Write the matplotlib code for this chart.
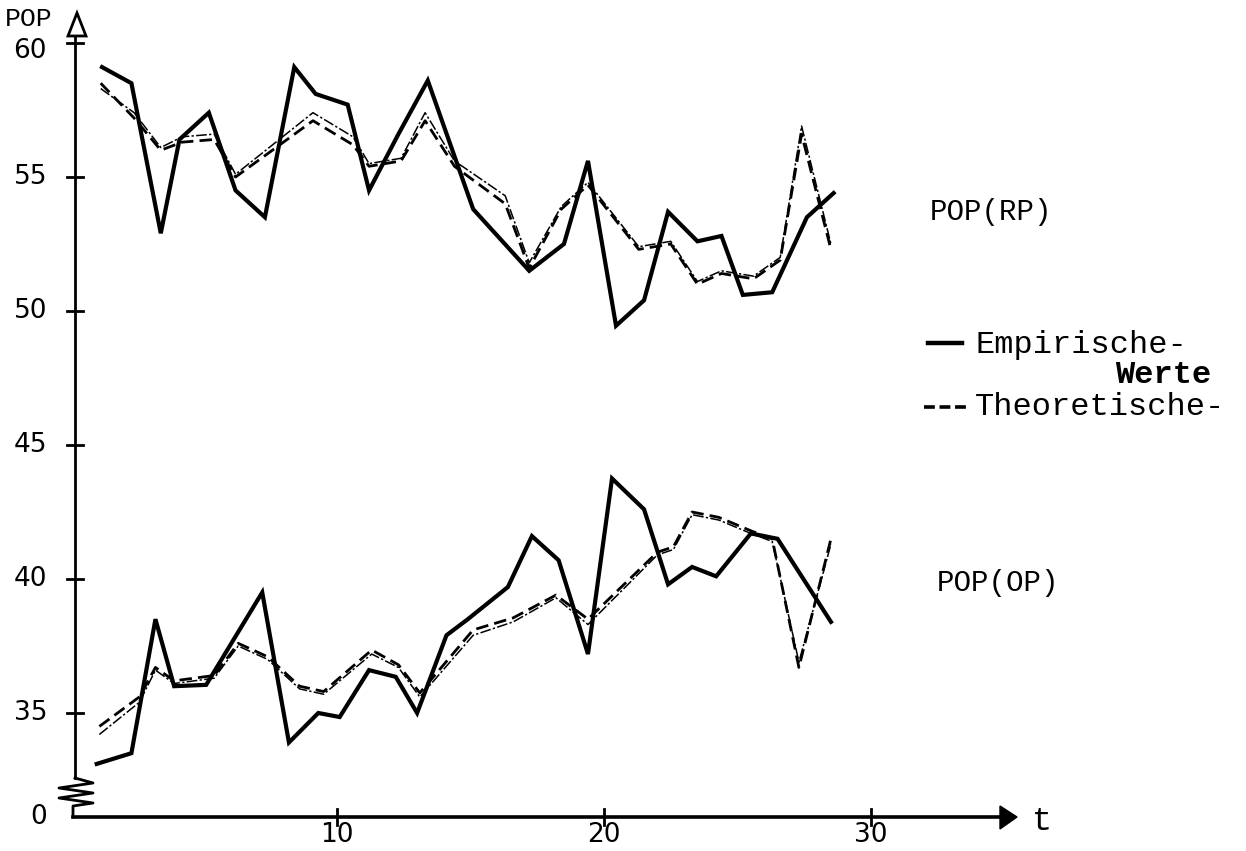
import matplotlib
matplotlib.use("Agg")
import matplotlib.pyplot as plt
from matplotlib.patches import Polygon

# ---------------- data ----------------
t_emp_rp = [1.2, 2.3, 3.4, 4.1, 5.2, 6.2, 7.3, 8.4, 9.2, 10.4, 11.2, 12.3, 13.4,
            15.1, 17.2, 18.5, 19.4, 20.45, 21.5, 22.4, 23.5, 24.4, 25.2, 26.3, 27.6, 28.6]
emp_rp = [59.1, 58.5, 52.9, 56.4, 57.4, 54.5, 53.5, 59.1, 58.1, 57.7, 54.5, 56.6, 58.6,
          53.8, 51.5, 52.5, 55.6, 49.45, 50.4, 53.7, 52.6, 52.8, 50.6, 50.7, 53.5, 54.4]

t_theo_rp = [1.15, 2.4, 3.4, 4.2, 5.4, 6.2, 9.1, 10.6, 11.2, 12.4, 13.3, 14.4, 16.3,
             17.2, 18.4, 19.4, 21.3, 22.5, 23.5, 24.4, 25.6, 26.6, 27.4, 28.5]
theo_rp = [58.5, 57.2, 56.0, 56.3, 56.4, 55.0, 57.1, 56.2, 55.4, 55.6, 57.1, 55.4, 54.0,
           51.6, 53.8, 54.7, 52.3, 52.5, 51.0, 51.4, 51.2, 51.9, 56.6, 52.3]
theo_rp_b = [58.3, 57.4, 56.1, 56.5, 56.6, 55.1, 57.4, 56.5, 55.5, 55.7, 57.4, 55.6, 54.3,
             51.8, 53.9, 54.8, 52.4, 52.6, 51.1, 51.5, 51.3, 52.0, 56.9, 52.5]

t_emp_op = [1.0, 2.3, 3.2, 3.9, 5.1, 7.2, 8.2, 9.3, 10.1, 11.2, 12.2, 13.0, 14.1, 14.9,
            16.4, 17.3, 18.3, 19.4, 20.3, 21.5, 22.4, 23.3, 24.2, 25.5, 26.5, 28.5]
emp_op = [33.1, 33.5, 38.5, 36.0, 36.05, 39.5, 33.9, 35.0, 34.85, 36.6, 36.35, 35.0, 37.9, 38.5,
          39.7, 41.6, 40.7, 37.2, 43.75, 42.6, 39.8, 40.45, 40.1, 41.7, 41.5, 38.4]

t_theo_op = [1.1, 2.6, 3.2, 3.9, 5.4, 6.3, 7.4, 8.6, 9.5, 11.3, 12.3, 13.1, 15.1, 16.6,
             18.2, 19.4, 22.0, 22.6, 23.3, 24.3, 25.5, 26.3, 27.3, 28.5]
theo_op = [34.5, 35.6, 36.7, 36.2, 36.4, 37.6, 37.1, 36.0, 35.8, 37.35, 36.8, 35.75, 38.1, 38.55,
           39.4, 38.5, 41.0, 41.2, 42.5, 42.3, 41.8, 41.5, 36.7, 41.5]
theo_op_b = [34.2, 35.4, 36.6, 36.1, 36.3, 37.5, 37.0, 35.9, 35.7, 37.2, 36.7, 35.6, 37.9, 38.4,
             39.3, 38.3, 40.9, 41.1, 42.4, 42.2, 41.7, 41.4, 36.9, 41.3]

y_ticks = [35, 40, 45, 50, 55, 60]
y_tick_labels = ["35", "40", "45", "50", "55", "60"]
x_ticks = [10, 20, 30]
x_tick_labels = ["10", "20", "30"]
zero_level = 31.12          # where the broken axis places "0"
y_axis_x = 0.19

W, H = 1246, 851
fig = plt.figure(figsize=(W / 100, H / 100), dpi=100)
ax = fig.add_axes([0, 0, 1, 1])
PX0, PXS = 70.0, 26.7
PY60, PYS = 43.0, 26.8
ax.set_xlim(-PX0 / PXS, (W - PX0) / PXS)
ax.set_ylim(60 - (H - PY60) / PYS, 60 + PY60 / PYS)
ax.axis("off")


def px2x(px):
    return (px - PX0) / PXS


def py2y(py):
    return 60 - (py - PY60) / PYS


ink = "black"
mono = ["Liberation Mono", "DejaVu Sans Mono"]
sans = ["DejaVu Sans"]

# ---------------- series ----------------
for tt, vv in ((t_emp_rp, emp_rp), (t_emp_op, emp_op)):
    ax.plot(tt, vv, color=ink, lw=3.0, solid_joinstyle="miter", zorder=4)
for tt, vv in ((t_theo_rp, theo_rp), (t_theo_op, theo_op)):
    ax.plot(tt, vv, color=ink, lw=2.0, dashes=(4.5, 2.2), zorder=3)
for tt, vv in ((t_theo_rp, theo_rp_b), (t_theo_op, theo_op_b)):
    ax.plot(tt, vv, color=ink, lw=1.1, dashes=(7, 1.5, 1.5, 1.5), zorder=3)

# ---------------- axes (drawn by hand, scanned style) ----------------
ax.plot([y_axis_x, y_axis_x], [py2y(778), py2y(30)], color=ink, lw=2.0, zorder=5)
zz_px = [(75, 778), (93, 783), (59, 788), (93, 793), (59, 798), (93, 803), (73, 806), (73, 817)]
ax.plot([px2x(p[0]) for p in zz_px], [py2y(p[1]) for p in zz_px], color=ink, lw=2.0, zorder=5)
ax.plot([px2x(73), px2x(1000)], [zero_level, zero_level], color=ink, lw=2.6, zorder=5)
# arrow heads
ax.add_patch(Polygon([(px2x(1000), py2y(806)), (px2x(1017), py2y(817)), (px2x(1000), py2y(829))],
                     closed=True, color=ink, zorder=6))
ax.add_patch(Polygon([(px2x(68), py2y(36)), (px2x(77), py2y(13)), (px2x(86), py2y(36))],
                     closed=True, facecolor="white", edgecolor=ink, lw=2.0, zorder=6))

# y ticks
for v, lab in zip(y_ticks, y_tick_labels):
    ax.plot([px2x(67), px2x(83)], [v, v], color=ink, lw=2.0, zorder=5)
    yy = v - (0.3 if v == 60 else 0.0)
    ax.text(px2x(47), yy, lab, ha="right", va="center", fontsize=19, family=sans, color=ink)
ax.text(px2x(47), zero_level, "0", ha="right", va="center", fontsize=19, family=sans, color=ink)

# x ticks
for v, lab in zip(x_ticks, x_tick_labels):
    ax.plot([v, v], [py2y(809), py2y(825)], color=ink, lw=2.0, zorder=5)
    ax.text(v, py2y(835), lab, ha="center", va="center", fontsize=19, family=sans, color=ink)

# axis titles
fig.text(5 / W, 1 - 19 / H, "POP", ha="left", va="center", fontsize=19, family=mono, color=ink)
fig.text(1032 / W, 1 - 822 / H, "t", ha="left", va="center", fontsize=24, family=mono, color=ink)

# group labels
fig.text(930 / W, 1 - 212 / H, "POP(RP)", ha="left", va="center", fontsize=21, family=mono, color=ink)
fig.text(937 / W, 1 - 583 / H, "POP(OP)", ha="left", va="center", fontsize=21, family=mono, color=ink)

# legend
ax.plot([px2x(928), px2x(962)], [py2y(343), py2y(343)], color=ink, lw=3.2)
ax.plot([px2x(924), px2x(970)], [py2y(407), py2y(407)], color=ink, lw=2.6, dashes=(3.0, 1.3))
fig.text(975 / W, 1 - 345 / H, "Empirische-", ha="left", va="center", fontsize=23, family=mono, color=ink)
fig.text(1115 / W, 1 - 375 / H, "Werte", ha="left", va="center", fontsize=23, family=mono,
         weight="bold", color=ink)
fig.text(975 / W, 1 - 407 / H, "Theoretische-", ha="left", va="center", fontsize=23, family=mono, color=ink)

fig.savefig("out.png", dpi=100, facecolor="white")
